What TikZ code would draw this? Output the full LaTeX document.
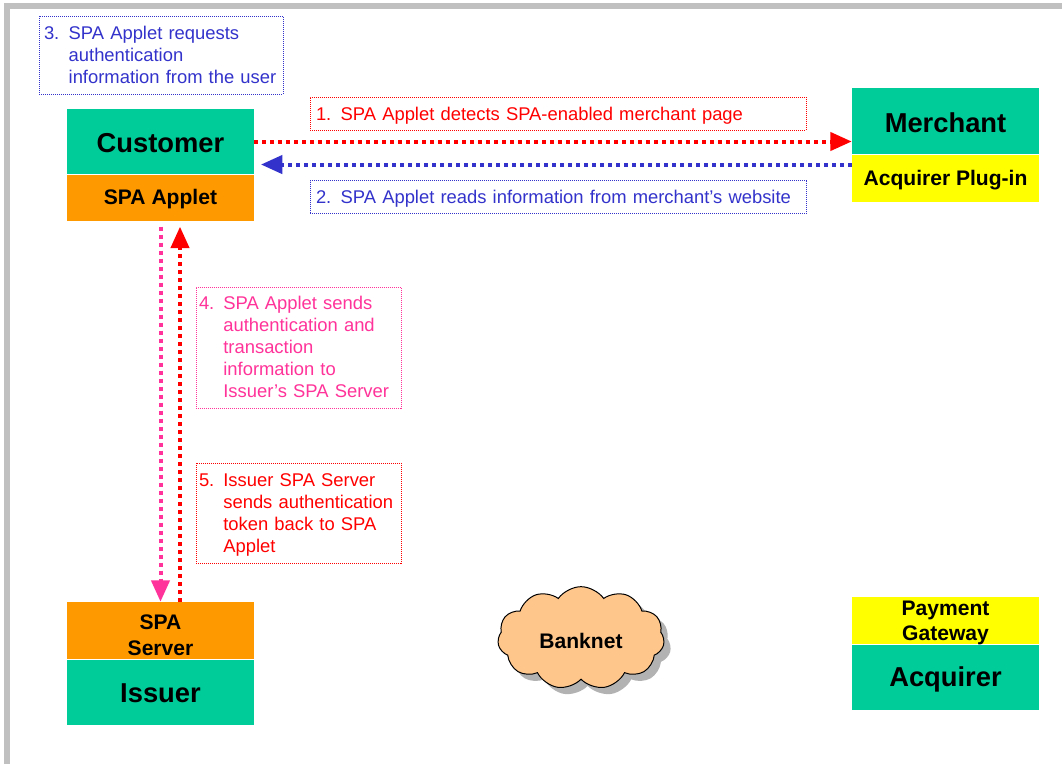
\documentclass[tikz,border=0pt]{standalone}
\usepackage{fontspec}
\setmainfont{Liberation Sans}
\usetikzlibrary{arrows.meta,shapes.symbols,shadows,calc}
\definecolor{boxgreen}{HTML}{00CC99}
\definecolor{boxorange}{HTML}{FF9900}
\definecolor{boxyellow}{HTML}{FFFF00}
\definecolor{msgred}{HTML}{FF0000}
\definecolor{msgblue}{HTML}{3333CC}
\definecolor{msgpink}{HTML}{FF3399}
\definecolor{framegray}{HTML}{C0C0C0}
\definecolor{cloudfill}{HTML}{FFC68C}
% lower a label slightly inside its box, keeping its reported size
\newcommand\dropby[2]{\raisebox{-#1}[\height][\depth]{#2}}
% two centred lines with no extra strut space
\newcommand\twolines[2]{\vbox{\halign{\hfil##\hfil\cr #1\cr #2\cr}}}

\begin{document}
\begin{tikzpicture}[x=0.75pt,y=-0.75pt,
  part/.style={rectangle, inner sep=0pt, minimum width=140.25pt, align=center},
  titlepart/.style={part, fill=boxgreen, font=\fontsize{20.5}{24}\selectfont\bfseries},
  subpart/.style={part, font=\fontsize{15.8}{19}\selectfont\bfseries},
  note/.style={rectangle, draw, line width=0.75pt, dash pattern=on 0.75pt off 0.75pt,
    inner ysep=0pt, align=left, font=\fontsize{13.8}{16.5}\selectfont},
  flow/.style={line width=3pt, dash pattern=on 3pt off 3pt,
    -{Triangle[length=16pt,width=13.5pt]}}
]
\useasboundingbox (0,0) rectangle (1062,764);
\fill[white] (0,0) rectangle (1062,764);
% slide frame
\fill[framegray] (4,3) rectangle (1062,9);
\fill[framegray] (4,3) rectangle (10,764);

% parties
\node[titlepart, minimum height=48.75pt] (cust) at (160.5,141.5) {\dropby{1pt}{Customer}};
\node[subpart, fill=boxorange, minimum height=34.9pt, anchor=north] (applet) at (cust.south) {\dropby{1pt}{SPA Applet}};

\node[titlepart, minimum height=49.5pt] (merch) at (945.5,121) {\dropby{1.2pt}{Merchant}};
\node[subpart, fill=boxyellow, minimum height=35.25pt, anchor=north] (plug) at (merch.south) {\dropby{1.5pt}{Acquirer Plug-in}};

\node[subpart, fill=boxorange, minimum height=42.75pt,
  font=\fontsize{15.8}{19.5}\selectfont\bfseries] (server) at (160.5,630.5) {\dropby{3.4pt}{\twolines{SPA}{Server}}};
\node[titlepart, minimum height=48.75pt, anchor=north] (issuer) at (server.south) {\dropby{0.75pt}{Issuer}};

\node[subpart, fill=boxyellow, minimum height=35.25pt,
  font=\fontsize{15.8}{18.75}\selectfont\bfseries] (gate) at (945.5,620.5) {\dropby{1.7pt}{\twolines{Payment}{Gateway}}};
\node[titlepart, minimum height=48.75pt, anchor=north] (acq) at (gate.south) {\dropby{1.5pt}{Acquirer}};

% network
\node[cloud, cloud puffs=11, cloud puff arc=110, cloud ignores aspect,
  minimum width=125pt, minimum height=77pt, draw=black, line width=0.75pt,
  fill=cloudfill, drop shadow={shadow xshift=5pt, shadow yshift=-5pt, fill=black!30, opacity=1},
  font=\fontsize{15.8}{19}\selectfont\bfseries] (banknet) at (581,638) {\dropby{2pt}{Banknet}};

% step notes
\node[note, draw=msgblue, text=msgblue, minimum width=183pt, minimum height=58.5pt,
  inner xsep=3.75pt, text width=175.5pt] (n3) at (161,55)
  {\dropby{1.5pt}{\begin{tabular}{@{}l@{\hspace{7pt}}l@{}}3. & SPA Applet requests\\ & authentication\\ & information from the user\end{tabular}}};
\node[note, draw=msgred, text=msgred, minimum width=372pt, minimum height=24.75pt,
  inner xsep=4.5pt, text width=363pt] (n1) at (558,113.5)
  {\dropby{1.5pt}{1.\hspace{7pt}SPA Applet detects SPA-enabled merchant page}};
\node[note, draw=msgblue, text=msgblue, minimum width=372pt, minimum height=24.75pt,
  inner xsep=4.5pt, text width=363pt] (n2) at (558,197)
  {\dropby{1.5pt}{2.\hspace{7pt}SPA Applet reads information from merchant's website}};
\node[note, draw=msgpink, text=msgpink, minimum width=153.75pt, minimum height=90.75pt,
  inner xsep=2.25pt, text width=149.25pt] (n4) at (298.5,347.5)
  {\dropby{1.5pt}{\begin{tabular}{@{}l@{\hspace{6.75pt}}l@{}}4. & SPA Applet sends\\ & authentication and\\ & transaction\\ & information to\\ & Issuer's SPA Server\end{tabular}}};
\node[note, draw=msgred, text=msgred, minimum width=153.75pt, minimum height=75pt,
  inner xsep=2.25pt, text width=149.25pt] (n5) at (298.5,513)
  {\dropby{1.5pt}{\begin{tabular}{@{}l@{\hspace{6.75pt}}l@{}}5. & Issuer SPA Server\\ & sends authentication\\ & token back to SPA\\ & Applet\end{tabular}}};

% message flows
\draw[flow, msgred] (cust.east) -- (cust.east -| merch.west);
\coordinate (bstart) at ($(plug.west)+(0,-13.5)$);
\draw[flow, msgblue, shorten >=5pt] (bstart) -- (bstart -| cust.east);
\draw[flow, msgpink, shorten <=4pt] (applet.south) -- (server.north);
\coordinate (rstart) at ($(server.north)+(19.5,0)$);
\draw[flow, msgred, shorten >=4pt] (rstart) -- (rstart |- applet.south);
\end{tikzpicture}
\end{document}
